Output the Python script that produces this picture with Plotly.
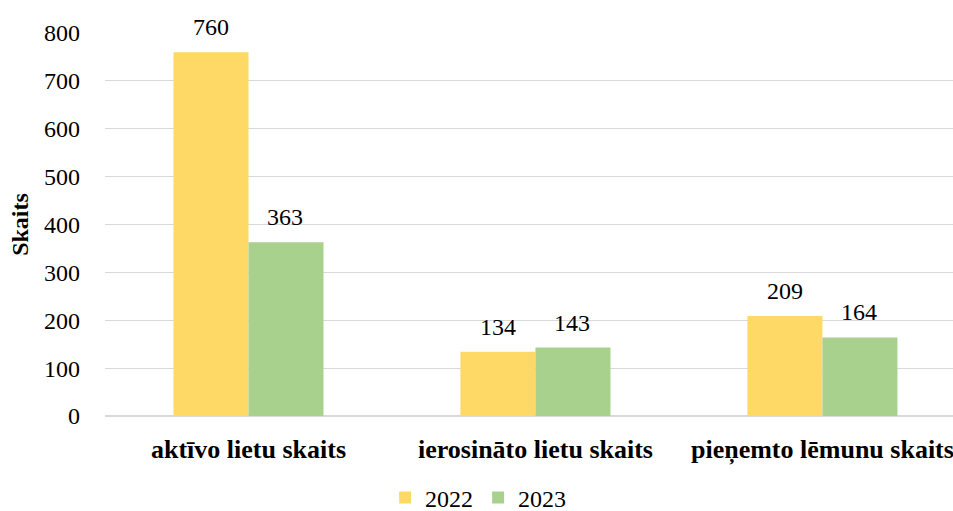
import plotly.graph_objects as go

categories = ["aktīvo lietu skaits", "ierosināto lietu skaits", "pieņemto lēmunu skaits"]
values_2022 = [760, 134, 209]
values_2023 = [363, 143, 164]
y_ticks = [0, 100, 200, 300, 400, 500, 600, 700, 800]

serif = "Liberation Serif"
colors = {"2022": "#FFD966", "2023": "#A9D18E"}

fig = go.Figure()
for name, vals in [("2022", values_2022), ("2023", values_2023)]:
    fig.add_trace(go.Bar(x=categories, y=vals, name=name,
                         marker=dict(color=colors[name], line=dict(width=0))))

# value labels above the bars (offset left/right of the category centre)
for vals, shift in [(values_2022, -37), (values_2023, 37)]:
    for cat, v in zip(categories, vals):
        fig.add_annotation(x=cat, y=v, text=str(v), showarrow=False,
                           xshift=shift, yshift=10, yanchor="bottom",
                           font=dict(size=24, family=serif, color="#000000"))

fig.update_layout(
    width=953, height=511,
    margin=dict(l=105, r=0, t=33, b=95, autoexpand=False),
    plot_bgcolor="white", paper_bgcolor="white",
    barmode="group", bargap=0.477, bargroupgap=0,
    font=dict(family=serif, size=24, color="#000000"),
    legend=dict(orientation="h", x=0.44, xanchor="center", y=-0.214, yanchor="middle",
                font=dict(size=24, family=serif, color="#000000"),
                itemwidth=30, traceorder="normal"),
    showlegend=True,
)
fig.update_xaxes(range=[-0.5, 2.455], showgrid=False, showline=False,
                 tickfont=dict(size=26, family=serif), ticklabelstandoff=15,
                 tickprefix="<b>", ticksuffix="</b>", automargin=False)
fig.update_yaxes(range=[0, 800], tickvals=y_ticks, showgrid=True, gridcolor="#D9D9D9",
                 gridwidth=1.3, zeroline=True, zerolinecolor="#D9D9D9", zerolinewidth=1.5,
                 tickfont=dict(size=24, family=serif), ticklabelstandoff=24,
                 title=dict(text="<b>Skaits</b>", font=dict(size=24, family=serif), standoff=8),
                 automargin=False)

fig.write_html("out.html", config={"displayModeBar": False},
               post_script="document.body.style.margin = '0';")
